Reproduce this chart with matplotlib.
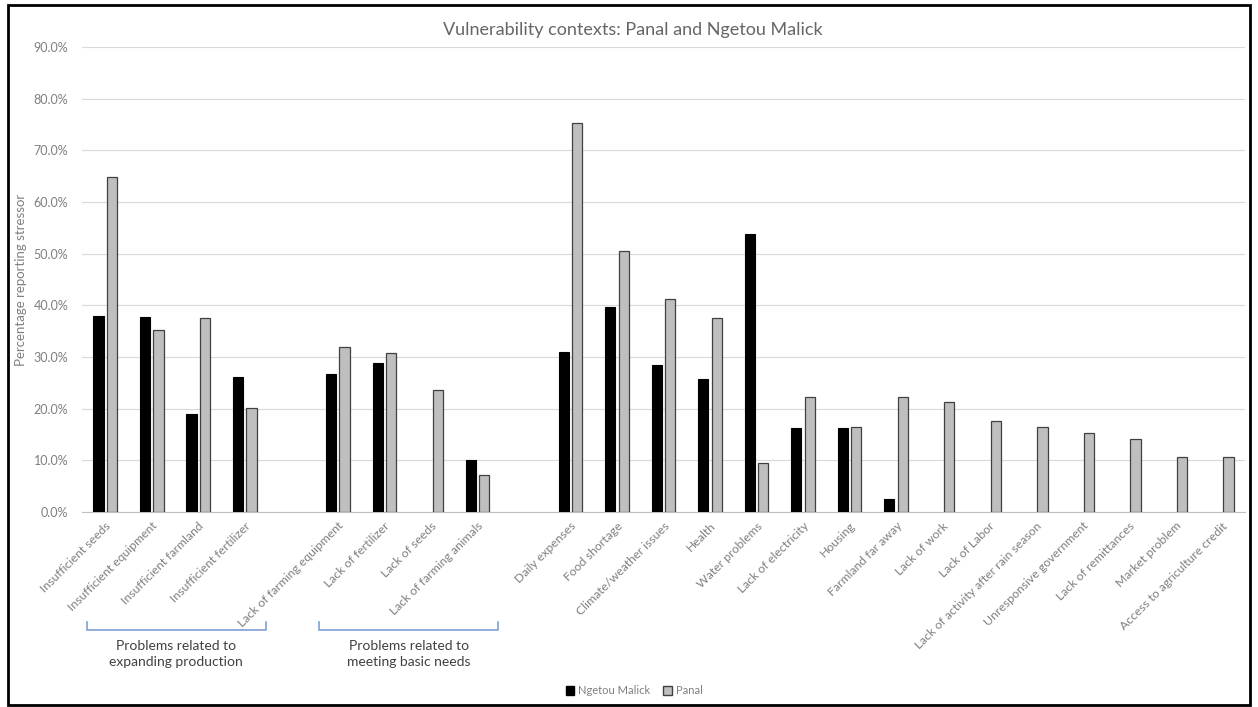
import numpy as np
import matplotlib
matplotlib.use("Agg")
import matplotlib.pyplot as plt
from matplotlib.patches import Rectangle, Patch
from matplotlib.lines import Line2D
from matplotlib.ticker import FuncFormatter

plt.rcParams['font.family'] = ['Lato', 'DejaVu Sans']

# categories ("" = empty spacer slot, as in the original)
categories = ["Insufficient seeds", "Insufficient equipment", "Insufficient farmland",
              "Insufficient fertilizer", "",
              "Lack of farming equipment", "Lack of fertilizer", "Lack of seeds",
              "Lack of farming animals", "",
              "Daily expenses", "Food shortage", "Climate/weather issues", "Health",
              "Water problems", "Lack of electricity", "Housing", "Farmland far away",
              "Lack of work", "Lack of Labor", "Lack of activity after rain season",
              "Unresponsive government", "Lack of remittances", "Market problem",
              "Access to agriculture credit"]

nan = np.nan
ngetou = [38.0, 37.8, 19.0, 26.2, nan, 26.7, 28.8, nan, 10.0, nan,
          31.0, 39.7, 28.4, 25.7, 53.9, 16.3, 16.3, 2.5,
          nan, nan, nan, nan, nan, nan, nan]
panal = [64.8, 35.3, 37.6, 20.2, nan, 31.9, 30.7, 23.6, 7.2, nan,
         75.3, 50.6, 41.2, 37.6, 9.4, 22.3, 16.5, 22.3,
         21.3, 17.7, 16.5, 15.3, 14.2, 10.6, 10.6]

groups = ["Problems related to\nexpanding production", "Problems related to\nmeeting basic needs"]
group_spans = [(0, 3), (5, 8)]   # first/last category index under each bracket

W, H = 1258, 707
fig = plt.figure(figsize=(W / 100, H / 100), dpi=100)
ax = fig.add_axes([82 / W, 1 - 512 / H, (1245 - 82) / W, (512 - 47) / H])

x = np.arange(len(categories))
bw = 0.22
off = 0.145
ax.bar(x - off, ngetou, bw, color='black', edgecolor='black', linewidth=0.8,
       label='Ngetou Malick', zorder=3)
ax.bar(x + off, panal, bw, color='#bfbfbf', edgecolor='#404040', linewidth=0.9,
       label='Panal', zorder=3)

ax.set_xlim(-0.5, len(categories) - 0.5)
ax.set_ylim(0, 90)
ax.set_yticks(np.arange(0, 91, 10))
ax.yaxis.set_major_formatter(FuncFormatter(lambda v, p: f"{v:.1f}%"))
ax.grid(axis='y', color='#d9d9d9', linewidth=0.8, zorder=0)
ax.set_axisbelow(True)
for s in ['top', 'right', 'left']:
    ax.spines[s].set_visible(False)
ax.spines['bottom'].set_color('#bfbfbf')
ax.tick_params(axis='both', length=0, colors='#7f7f7f', labelsize=9)
ax.tick_params(axis='y', pad=10)

ax.set_xticks(x)
ax.set_xticklabels(categories, rotation=45, ha='right', va='top',
                   rotation_mode='anchor', color='#7f7f7f', fontsize=8.8)
ax.tick_params(axis='x', pad=6)

ax.set_ylabel("Percentage reporting stressor", color='#7f7f7f', fontsize=9.5)
ax.yaxis.set_label_coords(-0.047, 0.5)

fig.text(633 / W, 1 - 30 / H, "Vulnerability contexts: Panal and Ngetou Malick",
         ha='center', va='center', fontsize=13, color='#666666')

# brackets under the first two groups
for (a, b), lab in zip(group_spans, groups):
    xa = ax.transData.transform((a - 0.4, 0))[0] / W
    xb = ax.transData.transform((b + 0.45, 0))[0] / W
    y_top, y_bot = 1 - 622 / H, 1 - 630 / H
    fig.add_artist(Line2D([xa, xa, xb, xb], [y_top, y_bot, y_bot, y_top],
                          color='#7f9fd8', linewidth=1.2))
    fig.text((xa + xb) / 2, 1 - 654 / H, lab, ha='center', va='center',
             fontsize=10, color='#404040', linespacing=1.3)

handles = [Patch(facecolor='black', edgecolor='black'),
           Patch(facecolor='#bfbfbf', edgecolor='#404040')]
fig.legend(handles, ['Ngetou Malick', 'Panal'], loc='center',
           bbox_to_anchor=(634 / W, 1 - 691 / H), ncol=2, frameon=False,
           fontsize=8, labelcolor='#7f7f7f', handlelength=0.8, handleheight=0.8,
           handletextpad=0.3, columnspacing=1.2)

# outer frame around the chart
fig.add_artist(Rectangle((8 / W, 2 / H), (1250 - 8) / W, (702 - 2) / H,
                         transform=fig.transFigure, fill=False,
                         edgecolor='black', linewidth=2))

fig.savefig("out.png", dpi=100)
